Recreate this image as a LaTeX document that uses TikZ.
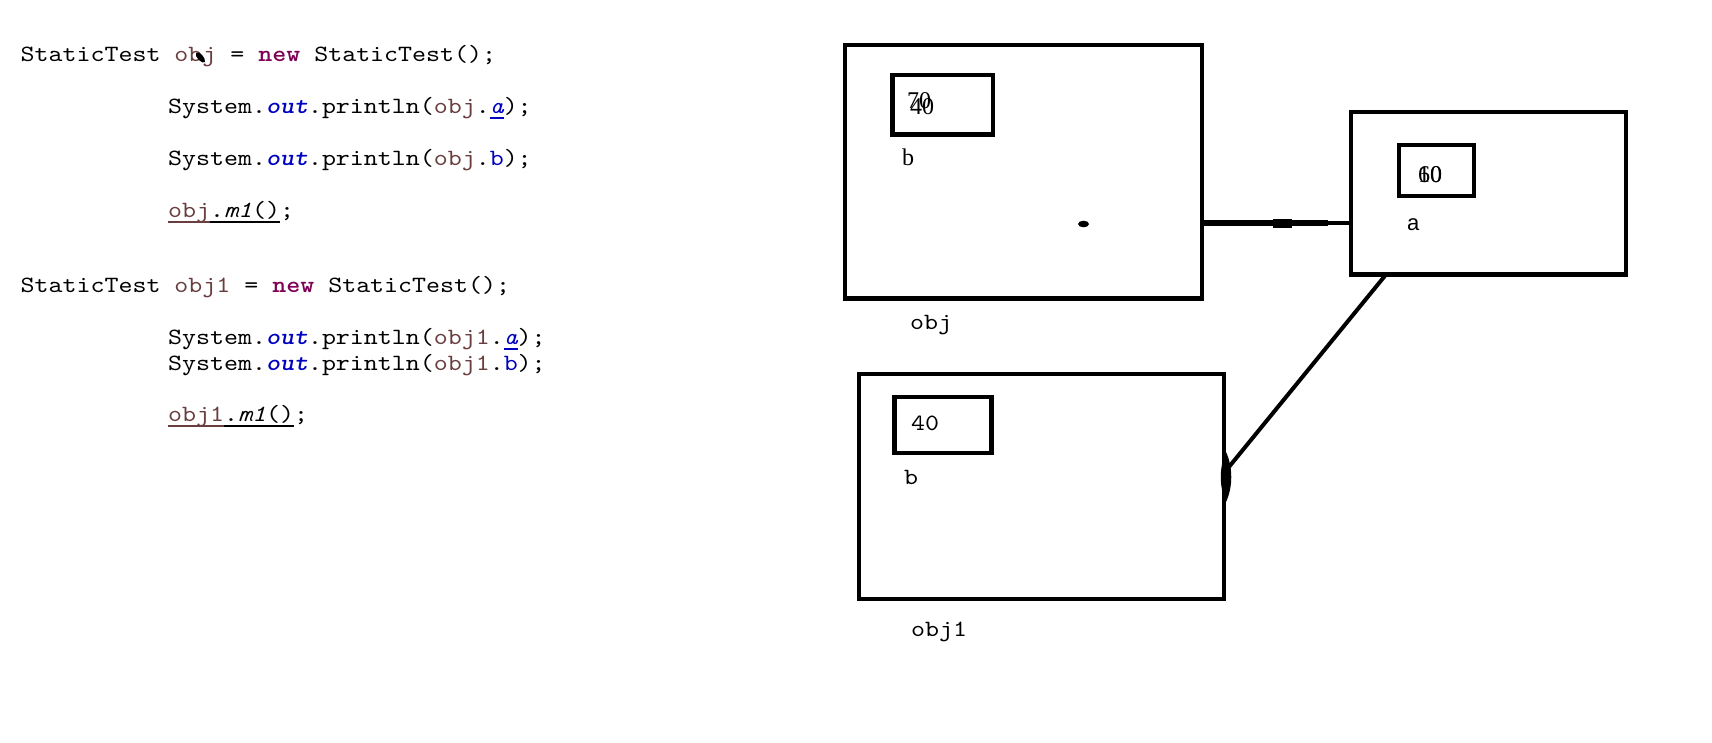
\documentclass[tikz,border=0pt]{standalone}
\usepackage{fontspec}
\setmainfont{Liberation Serif}
\setsansfont{Liberation Sans}
\setmonofont{lmmono10-regular.otf}[FakeStretch=1.143, BoldFont=lmmonolt10-bold.otf, ItalicFont=lmmono10-italic.otf, BoldItalicFont=lmmonolt10-boldoblique.otf]
\usetikzlibrary{calc}
\definecolor{jvarc}{HTML}{6A3E3E}
\definecolor{jkwc}{HTML}{7F0055}
\definecolor{jfldc}{HTML}{0000C0}
\newcommand{\jxul}[1]{\setbox0=\hbox{#1}\rlap{\vrule height -4.3pt depth 5.8pt width \wd0}\box0}
\newcommand{\jxvar}[1]{{\color{jvarc}#1}}
\newcommand{\jxkw}[1]{{\color{jkwc}\bfseries #1}}
\newcommand{\jxout}{{\color{jfldc}\bfseries\itshape out}}
\newcommand{\jxfld}[1]{{\color{jfldc}#1}}
\begin{document}
\begin{tikzpicture}[x=1pt,y=-1pt,
  code/.style={anchor=base west, inner sep=0pt, font=\ttfamily\fontsize{23.3}{28}\selectfont},
  box/.style={draw, rectangle, line width=4.6pt, inner sep=0pt, outer sep=0pt},
  memo/.style={anchor=base west, inner sep=0pt, font=\ttfamily\fontsize{23.3}{28}\selectfont},
  valser/.style={anchor=base west, inner sep=0pt, font=\rmfamily\fontsize{24}{28}\selectfont},
  lblser/.style={anchor=base west, inner sep=0pt, font=\rmfamily\fontsize{24}{28}\selectfont},
  lblsans/.style={anchor=base west, inner sep=0pt, font=\sffamily\fontsize{22}{26}\selectfont},
  link/.style={line width=4pt}]
\fill[white] (0,0) rectangle (1712,742);
\useasboundingbox (0,0) rectangle (1712,742);

% code
\node[code] (c1) at (20.5,61) {StaticTest \jxvar{obj} = \jxkw{new} StaticTest();};
\node[code] (c2) at (168,113) {System.\jxout.println(\jxvar{obj}.\jxfld{\jxul{\itshape a}});};
\node[code] (c3) at (168,165) {System.\jxout.println(\jxvar{obj}.\jxfld{b});};
\node[code] (c4) at (168,217) {\jxvar{\jxul{obj}}\jxul{.{\itshape m1}()};};
\node[code] (c5) at (20.5,292.5) {StaticTest \jxvar{obj1} = \jxkw{new} StaticTest();};
\node[code] (c6) at (168,344) {System.\jxout.println(\jxvar{obj1}.\jxfld{\jxul{\itshape a}});};
\node[code] (c7) at (168,370) {System.\jxout.println(\jxvar{obj1}.\jxfld{b});};
\node[code] (c8) at (168,421) {\jxvar{\jxul{obj1}}\jxul{.{\itshape m1}()};};
% cursor mark
\fill (196,53) .. controls (199,50) and (206,58) .. (205,62) .. controls (203,65) and (194,57) .. (196,53) -- cycle;

% boxes
\node[box, minimum width=357pt, minimum height=253.5pt] (obj) at (1023.5,171.75) {};
\node[box, minimum width=100.5pt, minimum height=59.5pt] (objb) at (942.75,104.75) {};
\node[box, minimum width=275pt, minimum height=162.5pt] (a) at (1488.5,193.25) {};
\node[box, minimum width=75pt, minimum height=51pt] (aa) at (1436.5,170.5) {};
\node[box, minimum width=365pt, minimum height=225pt] (obj1) at (1041.5,486.5) {};
\node[box, minimum width=97pt, minimum height=56pt] (obj1b) at (943,425) {};

% texts in boxes
\node[valser] (v70) at (907,108) {70};
\node[valser] (v40) at (910,114) {40};
\node[lblser] (lb) at (902,165) {b};
\node[memo] (lobj) at (910,329) {obj};
\node[valser] (v60) at (1418,182) {60};
\node[valser] (v10) at (1418,182) {10};
\node[lblsans] (la) at (1407,230) {a};
\node[memo] (v40b) at (911,430) {40};
\node[memo] (lb1) at (904,484) {b};
\node[memo] (lobj1) at (911,636) {obj1};

% dot
\fill (1083.5,224) ellipse [x radius=5.5pt, y radius=3.3pt];

% connector obj -> a
\coordinate (objport) at ([yshift=-51.25pt]obj.east);
\coordinate (aport) at ([yshift=-29.75pt]a.west);
\draw[line width=3.5pt] (objport) -- (aport);
\draw[line width=6pt] (objport) -- ($(objport)!0.846!(aport)$);
\draw[line width=9pt] ($(objport)!0.477!(aport)$) -- ($(objport)!0.604!(aport)$);

% connector a -> obj1
\draw[link] ([xshift=-102.5pt]a.south) -- ([yshift=13.5pt]obj1.east);
\fill (1226,452) .. controls (1233,467) and (1233,487) .. (1226,502) .. controls (1219,487) and (1219,467) .. (1226,452) -- cycle;
\end{tikzpicture}
\end{document}
